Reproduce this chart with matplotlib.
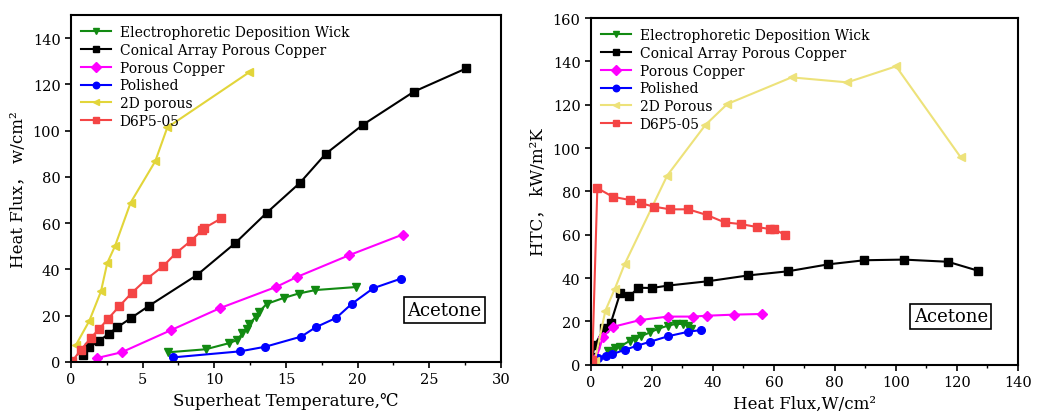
import numpy as np
import matplotlib
matplotlib.use('Agg')
import matplotlib.pyplot as plt
from matplotlib.ticker import MultipleLocator

plt.rcParams['font.family'] = ['DejaVu Serif', 'Noto Sans CJK SC']

# left panel: superheat (C) vs heat flux (W/cm2)
epd_dt = [6.79, 9.4, 11.0, 11.6, 11.95, 12.26, 12.44, 12.88, 13.09, 13.65, 14.84, 15.88, 17.05, 19.86]
epd_q = [4.2, 5.5, 8.1, 9.5, 12.4, 14.3, 16.5, 19.4, 21.5, 25.1, 27.7, 29.6, 31.1, 32.4]
cone_dt = [0.86, 1.26, 1.95, 2.65, 3.23, 4.21, 5.47, 8.79, 11.44, 13.67, 15.98, 17.77, 20.35, 23.93, 27.56]
cone_q = [3.0, 6.4, 9.0, 12.3, 15.0, 19.1, 24.4, 37.6, 51.3, 64.6, 77.5, 90.0, 102.5, 116.9, 126.9]
pc_dt = [1.81, 3.53, 6.95, 10.4, 14.33, 15.74, 19.42, 23.14]
pc_q = [1.7, 4.2, 13.7, 23.3, 32.5, 36.7, 46.2, 55.1]
pol_dt = [7.14, 11.79, 13.56, 16.07, 17.07, 18.51, 19.58, 21.09, 23.05]
pol_q = [2.0, 4.6, 6.6, 11.0, 15.0, 19.1, 25.1, 31.9, 36.1]
p2d_dt = [0.35, 1.28, 2.09, 2.53, 3.07, 4.16, 5.88, 6.72, 12.44]
p2d_q = [7.4, 17.8, 30.5, 42.8, 50.1, 68.9, 86.8, 101.4, 125.3]
d6_dt = [0.09, 0.7, 1.4, 1.95, 2.56, 3.37, 4.23, 5.3, 6.44, 7.33, 8.35, 9.14, 9.3, 10.49]
d6_q = [0.4, 5.3, 10.5, 14.2, 18.5, 24.1, 29.8, 36.0, 41.5, 47.1, 52.3, 56.9, 57.9, 62.1]

# right panel: heat flux (W/cm2) vs HTC (kW/m2K)
epd_q2 = [5.7, 7.9, 9.5, 12.8, 14.4, 16.3, 19.4, 21.9, 25.2, 27.8, 30.3, 31.9, 32.8]
epd_h = [6.5, 7.5, 8.3, 11.1, 11.8, 13.1, 14.9, 16.5, 18.0, 18.8, 18.8, 18.0, 16.5]
cone_q2 = [0.3, 1.3, 4.3, 6.5, 9.6, 12.6, 15.5, 20.0, 25.2, 38.3, 51.6, 64.6, 77.8, 89.7, 102.7, 117.1, 126.9]
cone_h = [3.5, 9.2, 16.8, 19.3, 33.2, 31.5, 35.5, 35.4, 36.5, 38.5, 41.2, 43.1, 46.3, 48.2, 48.5, 47.5, 43.4]
pc_q2 = [1.7, 4.0, 7.3, 16.1, 25.2, 33.6, 38.0, 46.9, 56.0]
pc_h = [3.0, 13.0, 17.5, 20.6, 22.2, 22.2, 22.6, 23.1, 23.4]
pol_q2 = [2.4, 4.8, 7.0, 11.2, 15.2, 19.4, 25.2, 31.9, 36.1]
pol_h = [3.1, 4.2, 4.9, 6.9, 8.8, 10.6, 13.1, 15.2, 16.0]
p2d_q2 = [1.2, 4.7, 7.8, 11.0, 25.0, 37.5, 44.7, 65.8, 84.1, 100.1, 121.3]
p2d_h = [1.5, 24.9, 35.0, 46.3, 87.3, 110.6, 120.3, 132.6, 130.3, 137.7, 95.7]
d6_q2 = [0.4, 2.07, 7.1, 12.8, 16.3, 20.8, 25.9, 31.9, 38.0, 43.8, 49.1, 54.6, 58.7, 60.1, 63.7]
d6_h = [2.0, 81.5, 77.5, 76.0, 74.5, 72.9, 71.7, 71.7, 69.1, 65.7, 64.9, 63.5, 62.6, 62.6, 59.8]

names = ['Electrophoretic Deposition Wick', 'Conical Array Porous Copper', 'Porous Copper',
         'Polished', '2D porous', 'D6P5-05']
colors = ['#128a12', 'black', '#ff00ff', '#0000ff', '#e2d53a', '#f44545']
markers = ['v', 's', 'D', 'o', '<', 's']

fig = plt.figure(figsize=(10.47, 4.14), dpi=100)
ax1 = fig.add_axes([0.0678, 0.1232, 0.4107, 0.838])
ax2 = fig.add_axes([0.5645, 0.1167, 0.4075, 0.8374])

left = [(epd_dt, epd_q), (cone_dt, cone_q), (pc_dt, pc_q), (pol_dt, pol_q), (p2d_dt, p2d_q), (d6_dt, d6_q)]
right = [(epd_q2, epd_h), (cone_q2, cone_h), (pc_q2, pc_h), (pol_q2, pol_h), (p2d_q2, p2d_h), (d6_q2, d6_h)]

for i, (x, y) in enumerate(left):
    ax1.plot(x, y, color=colors[i], marker=markers[i], ms=5.5, lw=1.5, label=names[i])
colors2 = list(colors)
colors2[4] = '#ede27a'
names2 = list(names)
names2[4] = '2D Porous'
for i, (x, y) in enumerate(right):
    ax2.plot(x, y, color=colors2[i], marker=markers[i], ms=5.5, lw=1.5, label=names2[i])

ax1.set_xlim(0, 30)
ax1.set_ylim(0, 150)
ax1.set_yticks(np.arange(0, 141, 20))
ax1.xaxis.set_minor_locator(MultipleLocator(2.5))
ax1.set_xlabel('Superheat Temperature,℃', fontsize=12, labelpad=4)
ax1.set_ylabel('Heat Flux， w/cm²', fontsize=12, labelpad=4)

ax2.set_xlim(0, 140)
ax2.set_ylim(0, 160)
ax2.set_yticks(np.arange(0, 161, 20))
ax2.xaxis.set_minor_locator(MultipleLocator(10))
ax2.set_xlabel('Heat Flux,W/cm²', fontsize=12, labelpad=4)
ax2.set_ylabel('HTC， kW/m²K', fontsize=12, labelpad=4)

for ax in (ax1, ax2):
    for s in ax.spines.values():
        s.set_linewidth(1.5)
    ax.tick_params(which='major', direction='out', length=4, width=1.2, labelsize=10.5)
    ax.tick_params(which='minor', direction='out', length=2.5, width=1.0)
    ax.legend(loc='upper left', frameon=False, fontsize=10, handlelength=2.2,
              labelspacing=0.28, borderaxespad=0.3, handletextpad=0.6, markerscale=0.85)

ax1.text(0.869, 0.15, 'Acetone', transform=ax1.transAxes, fontsize=13,
         ha='center', va='center',
         bbox=dict(boxstyle='square,pad=0.2', fc='white', ec='black', lw=1.2))
ax2.text(0.843, 0.14, 'Acetone', transform=ax2.transAxes, fontsize=13,
         ha='center', va='center',
         bbox=dict(boxstyle='square,pad=0.2', fc='white', ec='black', lw=1.2))

plt.savefig('out.png', dpi=100)
plt.close()
